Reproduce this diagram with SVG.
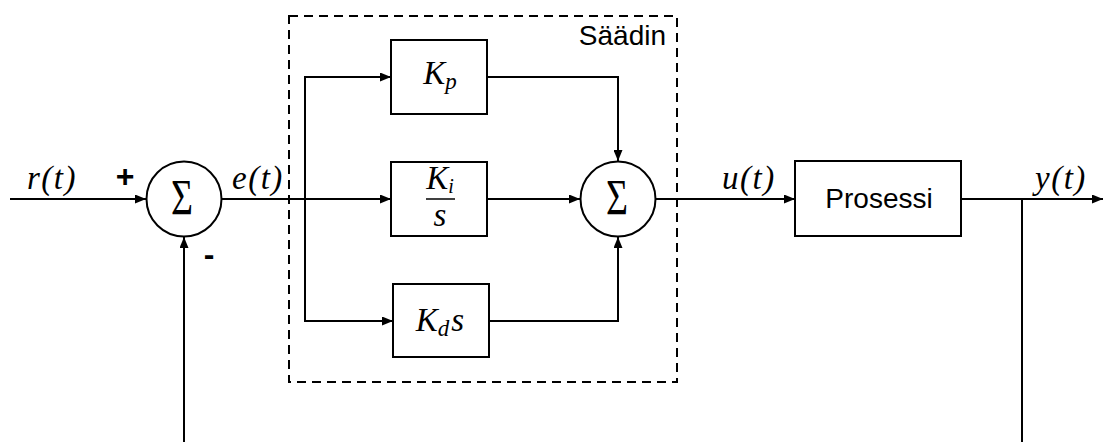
<svg xmlns="http://www.w3.org/2000/svg" width="1104" height="442" viewBox="0 0 1104 442">
  <style>
    .blk { fill: #fff; stroke: #000; stroke-width: 2; }
    .sum { fill: #fff; stroke: #000; stroke-width: 2; }
    .wire { fill: none; stroke: #000; stroke-width: 2; }
    .arr { marker-end: url(#ah); }
    .math { font-family: "Liberation Serif", "Times New Roman", serif; font-style: italic; font-size: 33px; fill: #000; }
    .lbl { letter-spacing: 1.5px; }
    .sig { font-family: "Liberation Serif", "Times New Roman", serif; font-size: 50px; fill: #000; }
    .txt { font-family: "Liberation Sans", Arial, sans-serif; font-size: 28px; fill: #000; }
    .sign { font-family: "Liberation Sans", Arial, sans-serif; font-size: 32px; font-weight: bold; fill: #000; }
    .dash { fill: none; stroke: #000; stroke-width: 2; stroke-dasharray: 9 6; }
  </style>
  <defs>
    <marker id="ah" markerUnits="userSpaceOnUse" markerWidth="11" markerHeight="9" refX="11" refY="4.5" orient="auto">
      <path d="M0,0 L11,4.5 L0,9 z" fill="#000"/>
    </marker>
  </defs>
  <rect width="1104" height="442" fill="#fff"/>

  <g id="controller-frame">
    <rect class="dash" x="289" y="16" width="388" height="366"/>
    <text class="txt" x="666" y="45" text-anchor="end">Säädin</text>
  </g>

  <g id="connectors">
    <line class="wire arr" x1="10" y1="199" x2="146" y2="199"/>
    <line class="wire arr" x1="221" y1="199" x2="391" y2="199"/>
    <polyline class="wire" points="391,77 305,77 305,321 393,321"/>
    <line class="wire arr" x1="305" y1="77" x2="391" y2="77"/>
    <line class="wire arr" x1="305" y1="321" x2="393" y2="321"/>
    <polyline class="wire arr" points="487,77 618,77 618,161"/>
    <line class="wire arr" x1="487" y1="199" x2="580" y2="199"/>
    <polyline class="wire arr" points="489,321 618,321 618,237"/>
    <line class="wire arr" x1="656" y1="199" x2="795" y2="199"/>
    <line class="wire arr" x1="961" y1="199" x2="1103" y2="199"/>
    <line class="wire" x1="1022" y1="199" x2="1022" y2="442"/>
    <line class="wire arr" x1="184" y1="442" x2="184" y2="237"/>
  </g>

  <g id="sum1">
    <circle class="sum" cx="184" cy="199" r="37.5"/>
    <text class="sig" x="182" y="214" text-anchor="middle" textLength="22" lengthAdjust="spacingAndGlyphs">Σ</text>
  </g>

  <g id="labels">
    <text class="math lbl" x="27" y="189">r(t)</text>
    <text class="sign" x="125" y="187" text-anchor="middle">+</text>
    <text class="sign" x="209" y="265" text-anchor="middle">-</text>
    <text class="math lbl" x="232" y="189">e(t)</text>
    <text class="math lbl" x="722" y="189">u(t)</text>
    <text class="math lbl" x="1035" y="189">y(t)</text>
  </g>

  <g id="kp">
    <rect class="blk" x="391" y="40" width="96" height="74"/>
    <text class="math" x="440" y="84" text-anchor="middle" font-size="31">K<tspan font-size="23" dy="5">p</tspan></text>
  </g>

  <g id="ki">
    <rect class="blk" x="391" y="162" width="96" height="74"/>
    <text class="math" x="440" y="189" text-anchor="middle" font-size="27">K<tspan font-size="20" dy="4">i</tspan></text>
    <line x1="426" y1="199" x2="455" y2="199" stroke="#000" stroke-width="1.5"/>
    <text class="math" x="440" y="226" text-anchor="middle" font-size="28">s</text>
  </g>

  <g id="kd">
    <rect class="blk" x="393" y="284" width="96" height="73"/>
    <text class="math" x="440" y="331" text-anchor="middle" font-size="31">K<tspan font-size="23" dy="5">d</tspan><tspan dy="-5" dx="2">s</tspan></text>
  </g>

  <g id="sum2">
    <circle class="sum" cx="618" cy="199" r="37.5"/>
    <text class="sig" x="617" y="214" text-anchor="middle" textLength="22" lengthAdjust="spacingAndGlyphs">Σ</text>
  </g>

  <g id="prosessi">
    <rect class="blk" x="795" y="161" width="166" height="75"/>
    <text class="txt" x="879" y="208" text-anchor="middle">Prosessi</text>
  </g>
</svg>
